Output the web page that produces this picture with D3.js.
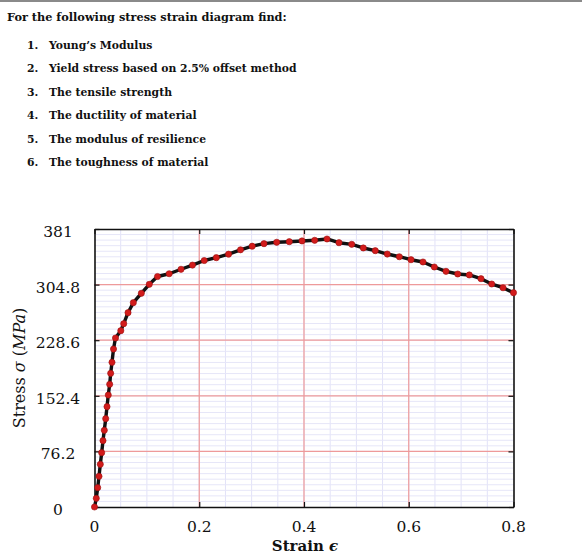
<!DOCTYPE html>
<html>
<head>
<meta charset="utf-8">
<script src="https://cdn.jsdelivr.net/npm/d3@7"></script>
<style>
  body { margin: 0; background: #fff; }
  svg { display: block; }
</style>
</head>
<body>
<svg id="chart" width="586" height="557"></svg>
<script>
const svg = d3.select("#chart");
const width = +svg.attr("width");

const title = "For the following stress strain diagram find:";
const tasks = [
  "Young\u2019s Modulus",
  "Yield stress based on 2.5% offset method",
  "The tensile strength",
  "The ductility of material",
  "The modulus of resilience",
  "The toughness of material"
];

const strain = [0, 0.0034, 0.0061, 0.0086, 0.0111, 0.0137, 0.0162, 0.0187, 0.0214, 0.0239,
  0.0263, 0.0290, 0.0309, 0.0334, 0.0363, 0.0401, 0.0502, 0.0558, 0.0640, 0.0741,
  0.0894, 0.1046, 0.1203, 0.1426, 0.1652, 0.1871, 0.2095, 0.2326, 0.2560, 0.2788,
  0.3011, 0.3236, 0.3479, 0.3719, 0.3962, 0.4204, 0.4439, 0.4668, 0.4911, 0.5132,
  0.5361, 0.5590, 0.5820, 0.6043, 0.6272, 0.6488, 0.6711, 0.6935, 0.7156, 0.7379,
  0.7584, 0.7800, 0.8];
const stress = [0, 11.9, 26.5, 42.1, 58.5, 74.4, 90.9, 105.1, 121.0, 137.5,
  153.5, 168.2, 183.2, 198.3, 216.5, 231.6, 241.6, 251.2, 266.3, 280.0,
  292.9, 305.2, 315.9, 319.7, 325.8, 331.5, 337.8, 341.7, 346.5, 352.5,
  357.4, 360.9, 362.8, 363.6, 364.6, 365.5, 367.3, 362.2, 360.0, 355.0,
  351.3, 346.7, 343.0, 338.9, 335.8, 328.9, 323.0, 319.3, 318.0, 312.9,
  305.6, 300.5, 293.7];

const xTicks = [0, 0.2, 0.4, 0.6, 0.8];
const yTicks = [0, 76.2, 152.4, 228.6, 304.8, 381];
const xTickLabels = ["0", "0.2", "0.4", "0.6", "0.8"];
const yTickLabels = ["0", "76.2", "152.4", "228.6", "304.8", "381"];

const serif = "'DejaVu Serif', 'Liberation Serif', serif";

// top rule
svg.append("rect").attr("x", 0).attr("y", 0).attr("width", width - 4).attr("height", 2).attr("fill", "#8a8a8a");

// question text
svg.append("text").attr("x", 7).attr("y", 21)
  .attr("font-family", serif).attr("font-size", 11.3).attr("font-weight", "bold")
  .attr("fill", "#111").text(title);

const list = svg.append("g").attr("font-family", serif).attr("font-size", 10.8)
  .attr("font-weight", "bold").attr("fill", "#111");
tasks.forEach((t, i) => {
  const yy = 49 + i * 23.4;
  list.append("text").attr("x", 27).attr("y", yy).text((i + 1) + ".");
  list.append("text").attr("x", 49).attr("y", yy).text(t);
});

// plot
const x = d3.scaleLinear().domain([0, 0.8]).range([94.5, 513.5]);
const y = d3.scaleLinear().domain([0, 381]).range([507, 229]);

const plot = svg.append("g");

// minor grid
const xMinor = d3.range(1, 16).map(i => i * 0.05);
const yMinor = d3.range(1, 50).map(i => i * 7.62);
plot.selectAll(".vmin").data(xMinor).join("line")
  .attr("x1", d => x(d)).attr("x2", d => x(d)).attr("y1", y(0)).attr("y2", y(381))
  .attr("stroke", "#e2e2f8").attr("stroke-width", 1);
plot.selectAll(".hmin").data(yMinor).join("line")
  .attr("x1", x(0)).attr("x2", x(0.8)).attr("y1", d => y(d)).attr("y2", d => y(d))
  .attr("stroke", "#e6e6f8").attr("stroke-width", 1);

// major grid
plot.selectAll(".vmaj").data(xTicks.slice(1, -1)).join("line")
  .attr("x1", d => x(d)).attr("x2", d => x(d)).attr("y1", y(0)).attr("y2", y(381))
  .attr("stroke", "#ee9a9a").attr("stroke-width", 1.2);
plot.selectAll(".hmaj").data(yTicks.slice(1, -1)).join("line")
  .attr("x1", x(0)).attr("x2", x(0.8)).attr("y1", d => y(d)).attr("y2", d => y(d))
  .attr("stroke", "#ee9a9a").attr("stroke-width", 1.2);

// axes box with inward ticks
const axB = d3.axisBottom(x).tickValues(xTicks).tickSizeInner(-5).tickSizeOuter(0).tickFormat("");
const axT = d3.axisTop(x).tickValues(xTicks).tickSizeInner(-5).tickSizeOuter(0).tickFormat("");
const axL = d3.axisLeft(y).tickValues(yTicks).tickSizeInner(-5).tickSizeOuter(0).tickFormat("");
const axR = d3.axisRight(y).tickValues(yTicks).tickSizeInner(-5).tickSizeOuter(0).tickFormat("");
[[axB, `translate(0,${y(0)})`], [axT, `translate(0,${y(381)})`],
 [axL, `translate(${x(0)},0)`], [axR, `translate(${x(0.8)},0)`]].forEach(([ax, tr]) => {
  const g = plot.append("g").attr("transform", tr).call(ax);
  g.select(".domain").attr("stroke", "#111").attr("stroke-width", 1.6);
  g.selectAll(".tick line").attr("stroke", "#111").attr("stroke-width", 1.2);
});

// tick labels
svg.append("g").selectAll("text").data(xTicks).join("text")
  .attr("x", d => x(d)).attr("y", 532).attr("text-anchor", "middle")
  .attr("font-family", serif).attr("font-size", 15.5).attr("fill", "#111")
  .text((d, i) => xTickLabels[i]);
svg.append("g").selectAll("text").data(yTicks).join("text")
  .attr("x", 58).attr("y", d => y(d) + 8).attr("text-anchor", "middle")
  .attr("font-family", serif).attr("font-size", 15.5).attr("fill", "#111")
  .text((d, i) => yTickLabels[i]);

// axis titles
const xl = svg.append("text").attr("x", 305).attr("y", 551).attr("text-anchor", "middle")
  .attr("font-family", serif).attr("font-size", 15).attr("font-weight", "bold").attr("fill", "#111");
xl.append("tspan").text("Strain ");
xl.append("tspan").attr("font-style", "italic").text("\u03f5");

const yl = svg.append("text").attr("transform", `translate(25,${(y(0) + y(381)) / 2}) rotate(-90)`)
  .attr("text-anchor", "middle").attr("font-family", serif).attr("font-size", 16).attr("fill", "#111");
yl.append("tspan").text("Stress ");
yl.append("tspan").attr("font-style", "italic").text("\u03c3");
yl.append("tspan").text(" (");
yl.append("tspan").attr("font-style", "italic").text("MPa");
yl.append("tspan").text(")");

// curve
const pts = strain.map((s, i) => [s, stress[i]]);
plot.append("path").datum(pts)
  .attr("d", d3.line().x(d => x(d[0])).y(d => y(d[1])))
  .attr("fill", "none").attr("stroke", "#111").attr("stroke-width", 3.4).attr("stroke-linejoin", "round");
plot.selectAll(".pt").data(pts).join("circle")
  .attr("cx", d => x(d[0])).attr("cy", d => y(d[1])).attr("r", 3.1)
  .attr("fill", "#d21b1b").attr("stroke", "#9a1010").attr("stroke-width", 0.6);
</script>
</body>
</html>
